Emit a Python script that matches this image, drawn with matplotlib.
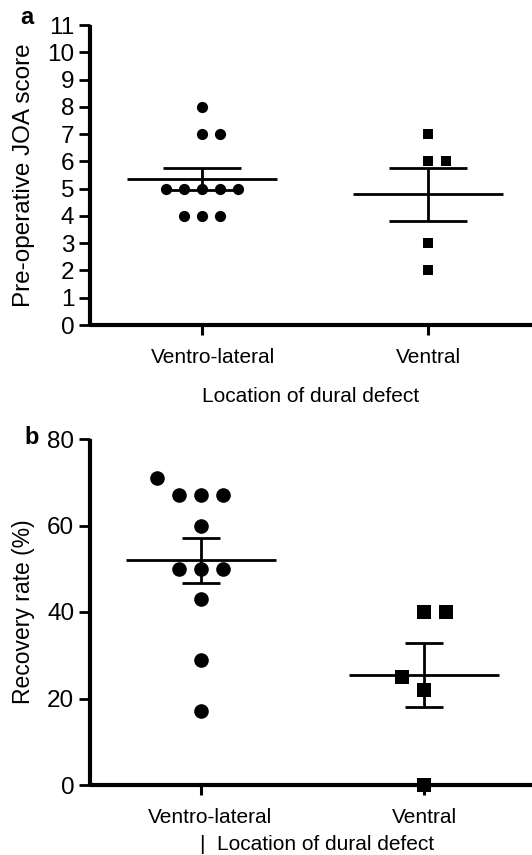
import numpy as np
import matplotlib
matplotlib.use("Agg")
import matplotlib.pyplot as plt
import matplotlib.transforms as mtransforms

plt.rcParams['font.family'] = ['Liberation Sans', 'DejaVu Sans']

# ---------------- data ----------------
categories = ["Ventro-lateral", "Ventral"]
joa_ventrolateral = [4, 4, 4, 5, 5, 5, 5, 5, 7, 7, 8]
joa_ventral = [2, 3, 6, 6, 7]
rr_ventrolateral = [17, 29, 43, 50, 50, 50, 60, 67, 67, 67, 71]
rr_ventral = [0, 22, 25, 40, 40]
yticks_a = list(range(0, 12))
yticks_b = [0, 20, 40, 60, 80]
ylabel_a = "Pre-operative JOA score"
ylabel_b = "Recovery rate (%)"
xlabel_a = "Location of dural defect"
xlabel_b = "|  Location of dural defect"

W, H, DPI = 532, 855, 100
fig = plt.figure(figsize=(W / DPI, H / DPI), dpi=DPI)

left = 89.6 / W
ax_a = fig.add_axes([left, 1 - 325 / H, 1 - left, 300 / H])
ax_b = fig.add_axes([left, 1 - 785 / H, 1 - left, 346 / H])


def swarm_offsets(vals, ax, step_px, coll_px):
    """Greedy swarm: identical values fan out 0,+1,-1,...; colliding values shift left first."""
    trans = ax.transData
    y_px = [trans.transform((0, v))[1] for v in vals]
    placed = []
    order = np.argsort(vals, kind="stable")
    res = [0] * len(vals)
    for i in order:
        v = vals[i]
        same = any(p[2] == v for p in placed)
        cands = [0, 1, -1, 2, -2, 3, -3] if same else [0, -1, 1, -2, 2, -3, 3]
        for c in cands:
            if all(np.hypot((c - s) * step_px, y_px[i] - yp) >= coll_px
                   for (s, yp, pv) in placed):
                res[i] = c
                placed.append((c, y_px[i], v))
                break
    ppu = trans.transform((1, 0))[0] - trans.transform((0, 0))[0]
    return [r * step_px / ppu for r in res]


def panel(ax, groups, markers, ylim, yticks, ylabel, ylabel_size, xlabel, xlim,
          diam_px, step_px, cap_pt, xlabelpad, xlabel_x, vl_shift_px):
    ax.set_xlim(*xlim)
    ax.set_ylim(*ylim)
    for s in ["top", "right"]:
        ax.spines[s].set_visible(False)
    for s in ["left", "bottom"]:
        ax.spines[s].set_linewidth(3.0)
        ax.spines[s].set_capstyle("butt")
    ax.set_yticks(yticks)
    ax.set_xticks(range(len(categories)))
    ax.set_xticklabels(categories)
    ax.tick_params(axis="y", direction="out", length=8, width=2.0, labelsize=17.5, pad=3.0)
    ax.tick_params(axis="x", direction="out", length=7, width=2.2, labelsize=15, pad=9.5)
    ax.set_ylabel(ylabel, fontsize=ylabel_size)
    ax.yaxis.set_label_coords((35.5 - 89.6) / (W - 89.6), 0.5)
    ax.set_xlabel(xlabel, fontsize=15, labelpad=xlabelpad)
    ax.xaxis.label.set_x(xlabel_x)

    lbl = ax.get_xticklabels()[0]
    lbl.set_transform(lbl.get_transform() +
                      mtransforms.ScaledTranslation(vl_shift_px / DPI, 0, fig.dpi_scale_trans))

    ms_pt = diam_px * 72 / DPI
    half_mean = 75.0
    ppu = ax.transData.transform((1, 0))[0] - ax.transData.transform((0, 0))[0]
    for gi, (vals, mk) in enumerate(zip(groups, markers)):
        vals = list(vals)
        offs = swarm_offsets(vals, ax, step_px, diam_px * 1.35)
        m = np.mean(vals)
        sem = np.std(vals, ddof=1) / np.sqrt(len(vals))
        ax.hlines(m, gi - half_mean / ppu, gi + half_mean / ppu, color="black",
                  linewidth=2.0, zorder=3)
        ax.errorbar([gi], [m], yerr=[sem], fmt="none", ecolor="black",
                    elinewidth=2.0, capsize=cap_pt, capthick=2.0, zorder=3)
        ax.plot(np.array(offs) + gi, vals, linestyle="none", marker=mk,
                markersize=ms_pt if mk == "o" else ms_pt * 0.97,
                markerfacecolor="black", markeredgewidth=0, color="black",
                clip_on=False, zorder=4)
    return ax


panel(ax_a, [joa_ventrolateral, joa_ventral], ["o", "s"], (0, 11), yticks_a,
      ylabel_a, 17.5, xlabel_a, (-0.497, 1.460), 11.2, 18.0, 28, 14.5, 0.5, 11)
panel(ax_b, [rr_ventrolateral, rr_ventral], ["o", "s"], (0, 80), yticks_b,
      ylabel_b, 16.5, xlabel_b, (-0.4996, 1.484), 14.6, 22.0, 14, 6.0, 0.515, 9)

fig.text(27 / W, 1 - 18 / H, "a", fontsize=17, fontweight="bold", ha="center", va="center")
fig.text(32 / W, 1 - 437 / H, "b", fontsize=17, fontweight="bold", ha="center", va="center")

fig.savefig("out.png", dpi=DPI)
